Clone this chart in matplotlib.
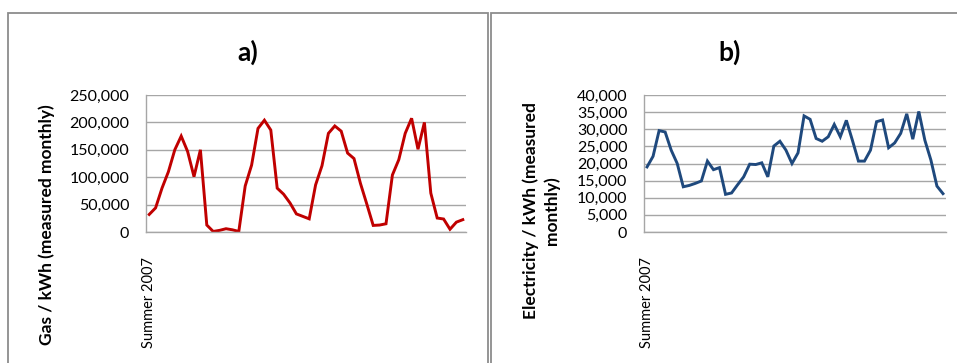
import numpy as np
import matplotlib.pyplot as plt
from matplotlib.patches import Rectangle
from matplotlib.ticker import FuncFormatter, MultipleLocator

# monthly metered consumption, starting summer 2007
gas_kwh = [32000, 44000, 80000, 110000, 150000, 175000, 147000, 101000, 150000, 12700,
           1000, 3000, 6000, 4000, 1000, 84000, 122000, 189000, 204000, 186000,
           80000, 69000, 53000, 33000, 28500, 24000, 86000, 121000, 180000, 193500,
           184000, 144000, 134000, 89000, 51000, 12000, 12700, 15000, 104000, 132000,
           180000, 207500, 151000, 200000, 71000, 25500, 23700, 5000, 18000, 22500]
elec_kwh = [19000, 22100, 29600, 29200, 23900, 20000, 13200, 13600, 14200, 14900,
            20700, 18200, 18800, 11000, 11400, 13800, 16100, 19800, 19700, 20200,
            16100, 25100, 26500, 23900, 20000, 23100, 33900, 32900, 27300, 26500,
            27800, 31400, 27800, 32600, 26800, 20700, 20700, 23900, 32200, 32700,
            24600, 26000, 28800, 34500, 27100, 35200, 26800, 21000, 13400, 11200]
first_label = "Summer 2007"

W, H = 957, 363
plt.rcParams['font.family'] = ['Lato', 'DejaVu Sans']

fig = plt.figure(figsize=(W / 100, H / 100), dpi=100)


def px_box(x0, y0, x1, y1):
    # pixel box (top-left origin) -> figure fraction rect
    return [x0 / W, 1 - y1 / H, (x1 - x0) / W, (y1 - y0) / H]


def panel(box, data, color, ymax, ystep, title, title_x, ylabel, ylabel_x, ylabel_y):
    ax = fig.add_axes(px_box(*box))
    x = np.arange(len(data))
    ax.plot(x, data, color=color, lw=2.1, solid_joinstyle='miter')
    ax.set_xlim(-0.5, len(data) - 0.5)
    ax.set_ylim(0, ymax)
    ax.yaxis.set_major_locator(MultipleLocator(ystep))
    ax.yaxis.set_major_formatter(FuncFormatter(lambda v, p: f"{int(v):,}"))
    ax.grid(axis='y', color='#a6a6a6', lw=1.0)
    ax.set_axisbelow(True)
    for s in ['top', 'right']:
        ax.spines[s].set_visible(False)
    for s in ['left', 'bottom']:
        ax.spines[s].set_color('#a6a6a6')
        ax.spines[s].set_linewidth(1.0)
    ax.set_xticks([0])
    ax.set_xticklabels([first_label], rotation=90, fontsize=10.5, va='top')
    ax.tick_params(axis='x', length=0, pad=18)
    ax.tick_params(axis='y', length=0, pad=12, labelsize=11.5)
    fig.text(title_x / W, 1 - 52 / H, title, ha='center', va='center',
             fontsize=19, fontweight='bold')
    fig.text(ylabel_x / W, 1 - ylabel_y / H, ylabel, ha='center', va='center',
             rotation=90, fontsize=12.5, fontweight='bold', linespacing=1.35)
    return ax


panel((146, 95, 466, 232), gas_kwh, '#c00000', 250000, 50000,
      'a)', 248, 'Gas / kWh (measured monthly)', 47, 225)
panel((644, 95, 946, 232), elec_kwh, '#1f497d', 40000, 5000,
      'b)', 730, 'Electricity / kWh (measured\nmonthly)', 541, 211)

# chart frames
for x0, x1 in [(8, 488), (491, 975)]:
    fig.patches.append(Rectangle((x0 / W, -0.1), (x1 - x0) / W, 1.1 - 13 / H,
                                 transform=fig.transFigure, fill=False,
                                 edgecolor='#8c8c8c', lw=1.3))

fig.savefig('out.png', dpi=100)
